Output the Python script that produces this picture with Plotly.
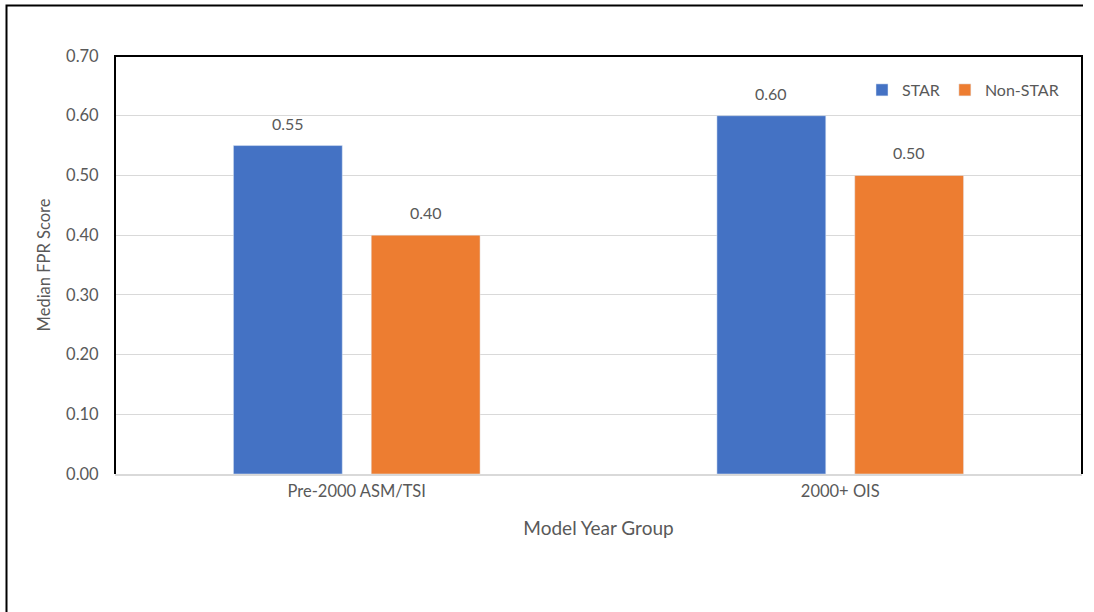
import plotly.graph_objects as go

categories = ["Pre-2000 ASM/TSI", "2000+ OIS"]
star = [0.55, 0.60]
non_star = [0.40, 0.50]
y_ticks = [0.0, 0.1, 0.2, 0.3, 0.4, 0.5, 0.6, 0.7]

W, H = 1094, 612
L, R, T, B = 115, 12, 56, 138
pw, ph = W - L - R, H - T - B

gray = "#595959"
font = "Lato, 'Open Sans', sans-serif"

BARGAP, GROUPGAP = 0.43, 0.21

fig = go.Figure()
fig.add_trace(go.Bar(name="STAR", x=categories, y=star, marker_color="#4472C4"))
fig.add_trace(go.Bar(name="Non-STAR", x=categories, y=non_star, marker_color="#ED7D31"))

# value labels above each bar, offset horizontally to the bar's slot
slot_px = pw / len(categories) * (1 - BARGAP) / 2
annotations = []
for vals, shift in ((star, -slot_px / 2), (non_star, slot_px / 2)):
    for c, v in zip(categories, vals):
        annotations.append(dict(
            x=c, y=v, xref="x", yref="y", text=f"{v:.2f}", showarrow=False,
            xshift=shift, yshift=11, yanchor="bottom",
            font=dict(size=16, color=gray),
        ))

def px_x(x):
    return (x - L) / pw

def px_y(y):
    return (H - B - y) / ph

shapes = [
    # plot frame: left, top, right
    dict(type="path", xref="paper", yref="paper",
         path="M 0,0 L 0,1 L 1,1 L 1,0", line=dict(color="black", width=2)),
    # outer chart frame
    dict(type="path", xref="paper", yref="paper",
         path=f"M {px_x(6.5)},{px_y(612)} L {px_x(6.5)},{px_y(5.5)} L {px_x(1083)},{px_y(5.5)}",
         line=dict(color="black", width=2)),
]

fig.update_layout(
    width=W, height=H,
    margin=dict(l=L, r=R, t=T, b=B),
    paper_bgcolor="white", plot_bgcolor="white",
    font=dict(family=font, color=gray, size=16),
    barmode="group", bargap=BARGAP, bargroupgap=GROUPGAP,
    showlegend=True,
    legend=dict(orientation="h", x=px_x(1064), xanchor="right", y=px_y(90), yanchor="middle",
                font=dict(size=16, color=gray), bgcolor="rgba(0,0,0,0)",
                itemwidth=30, traceorder="normal"),
    shapes=shapes,
    annotations=annotations,
)
fig.update_yaxes(
    range=[0, 0.7], tickvals=y_ticks, tickformat=".2f",
    showgrid=True, gridcolor="#d9d9d9", gridwidth=1,
    zeroline=False, showline=False,
    ticks="outside", ticklen=12, tickcolor="rgba(0,0,0,0)",
    tickfont=dict(size=16.5, color=gray),
    title=dict(text="Median FPR Score", font=dict(size=16.5, color=gray), standoff=11),
)
fig.update_xaxes(
    showline=True, linecolor="#d9d9d9", linewidth=1.5,
    ticks="outside", ticklen=1, tickcolor="rgba(0,0,0,0)",
    tickfont=dict(size=16.5, color=gray),
    title=dict(text="Model Year Group", font=dict(size=19, color=gray), standoff=22),
)

fig.write_html("out.html")
